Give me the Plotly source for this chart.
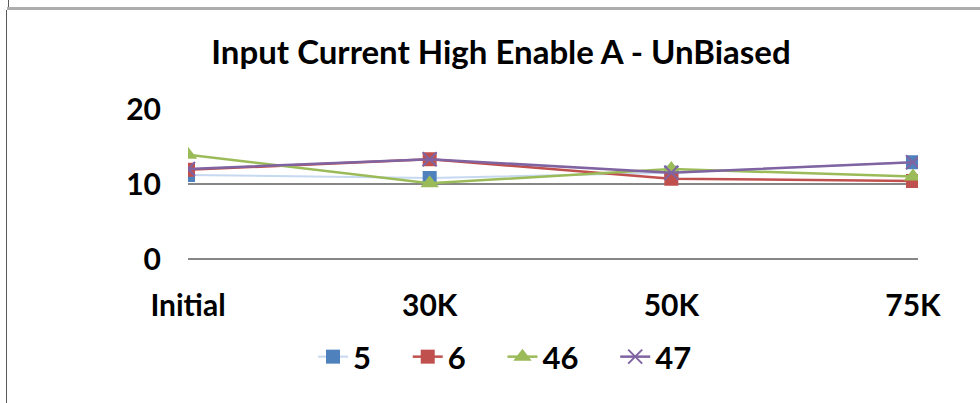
import plotly.graph_objects as go

categories = ["Initial", "30K", "50K", "75K"]
series_names = ["5", "6", "46", "47"]
s5 = [11.2, 10.8, 11.5, 12.9]
s6 = [11.9, 13.3, 10.7, 10.4]
s46 = [13.9, 10.1, 12.0, 11.0]
s47 = [12.0, 13.3, 11.5, 12.9]
y_ticks = [0, 10, 20]

W, H = 980, 403
L, R, T, B = 188, 918, 109, 259

def px(x):
    return (x - L) / (R - L)

def py(y):
    return (B - y) / (B - T)

fig = go.Figure()
font_fam = "Lato, 'Open Sans', sans-serif"
pad = "\u00a0" * 4

fig.add_trace(go.Scatter(
    x=categories, y=s5, name=f"<b>{series_names[0]}</b>{pad}", mode="lines+markers",
    line=dict(color="#C6D9F1", width=2),
    marker=dict(symbol="square", size=14, color="#4F81BD"),
))
fig.add_trace(go.Scatter(
    x=categories, y=s6, name=f"<b>{series_names[1]}</b>{pad}", mode="lines+markers",
    line=dict(color="#C0504D", width=2.5),
    marker=dict(symbol="square", size=14, color="#C0504D"),
))
fig.add_trace(go.Scatter(
    x=categories, y=s46, name=f"<b>{series_names[2]}</b>{pad}", mode="lines+markers",
    line=dict(color="#9BBB59", width=2.5),
    marker=dict(symbol="triangle-up", size=16, color="#9BBB59"),
))
fig.add_trace(go.Scatter(
    x=categories, y=s47, name=f"<b>{series_names[3]}</b>", mode="lines+markers",
    line=dict(color="#8064A2", width=2.5),
    marker=dict(symbol="x-thin", size=14, line=dict(color="#8064A2", width=2)),
))

shapes = [
    dict(type="line", xref="paper", yref="paper", x0=px(7), x1=px(980), y0=py(8.5), y1=py(8.5),
         line=dict(color="#ADADAD", width=3)),
    dict(type="line", xref="paper", yref="paper", x0=px(8.5), x1=px(8.5), y0=py(0), y1=py(7),
         line=dict(color="#595959", width=1)),
    dict(type="line", xref="paper", yref="paper", x0=px(6.5), x1=px(6.5), y0=py(10), y1=py(403),
         line=dict(color="#595959", width=1)),
]

fig.update_layout(
    width=W, height=H,
    margin=dict(l=L, r=W - R, t=T, b=H - B, pad=0, autoexpand=False),
    paper_bgcolor="white", plot_bgcolor="white",
    font=dict(family=font_fam, color="black", size=30),
    title=dict(text="<b>Input Current High Enable A - UnBiased</b>", x=px(501), xref="paper",
               xanchor="center", y=1 - 52 / H, yanchor="middle",
               font=dict(size=33, family=font_fam)),
    showlegend=True,
    legend=dict(orientation="h", x=px(505), xanchor="center", xref="paper",
                y=py(357), yanchor="middle", font=dict(size=31, family=font_fam),
                itemwidth=30, tracegroupgap=0),
    shapes=shapes,
)
fig.update_xaxes(
    type="category", range=[0, 3 * (R - L) / (913 - L)],
    showgrid=False, showline=False, zeroline=False, ticks="",
    tickfont=dict(size=30, family=font_fam), ticklabelstandoff=26,
    tickvals=categories, ticktext=[f"<b>{c}</b>" for c in categories],
)
fig.update_yaxes(
    range=[0, 20], tickvals=y_ticks, ticktext=[f"<b>{v}</b>" for v in y_ticks],
    showgrid=True, gridcolor="#868686", gridwidth=1.5,
    zeroline=True, zerolinecolor="#868686", zerolinewidth=2,
    showline=False, ticks="", tickfont=dict(size=30, family=font_fam), ticklabelstandoff=26,
)

fig.write_html("out.html", config={"displayModeBar": False},
               post_script="document.body.style.margin='0';")
